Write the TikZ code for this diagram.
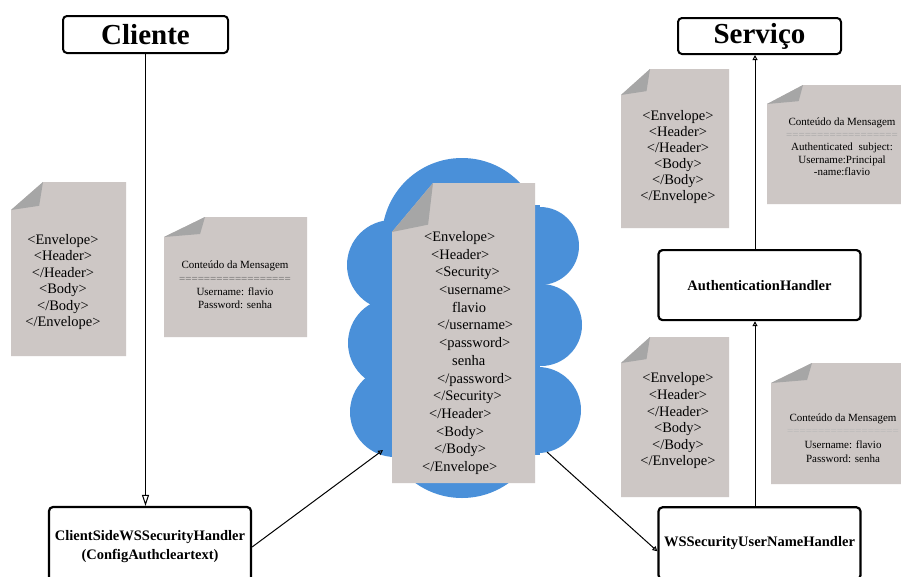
\documentclass[tikz,border=0pt]{standalone}
\usepackage{fontspec}
\setmainfont{Liberation Serif}
\usepackage{xcolor}
\usetikzlibrary{arrows.meta,positioning}

\definecolor{cloudblue}{RGB}{74,144,217}
\definecolor{sheetgray}{RGB}{205,199,197}
\definecolor{foldgray}{RGB}{166,166,166}

% folded sheet: x1, y1, x2, y2, fold width, fold height
\newcommand{\docsheet}[6]{%
  \fill[sheetgray] (#1,#2+#6) -- (#1+#5,#2) -- (#3,#2) -- (#3,#4) -- (#1,#4) -- cycle;
  \fill[foldgray] (#1,#2+#6) -- (#1+#5,#2) -- (#1+0.88*#5,#2+0.85*#6) -- cycle;
}

\begin{document}
\begin{tikzpicture}[
    x=1pt, y=-1pt,
    title/.style={draw, line width=2pt, rounded corners=4pt, fill=white, inner sep=0pt, font=\fontsize{29}{34}\selectfont\bfseries},
    handler/.style={draw, line width=2.2pt, rounded corners=4pt, fill=white, align=center, minimum width=202pt, font=\fontsize{14.5}{19}\selectfont\bfseries},
    xmltext/.style={align=center, inner sep=0pt, font=\fontsize{14.5}{16.4}\selectfont},
    msgtext/.style={align=center, inner sep=0pt, font=\fontsize{11}{13.3}\selectfont},
    link/.style={-{Triangle[open, length=5pt, width=5pt]}, line width=1pt},
    bigtip/.style={-{Triangle[open, length=11pt, width=7pt]}, line width=1pt}
]
\useasboundingbox (0,0) rectangle (901,576);
\clip (0,0) rectangle (901,576);
\fill[white] (0,0) rectangle (901,576);

% Cloud
\foreach \cx/\cy/\r in {462/238/80, 462/418/80, 392/265/45, 393/343/45, 395/412/45, 540/246/39, 541/325/41, 538/410/43}
  \fill[cloudblue] (\cx,\cy) circle[radius=\r];
\fill[cloudblue] (392,205) rectangle (540,455);

% Sheets
\docsheet{11}{182}{126}{356}{32}{28}
\docsheet{164}{217}{307}{337}{41}{20}
\docsheet{392}{183}{535}{483}{41}{49}
\docsheet{621}{69}{729}{228}{29}{26}
\docsheet{767}{85}{901}{204}{36}{19}
\docsheet{621}{337}{729}{497}{29}{26}
\docsheet{771}{363}{901}{484}{41}{20}

% Client side texts
\node[xmltext] (clientxml) at (63,282) {<Envelope>\\<Header>\\</Header>\\<Body>\\</Body>\\</Envelope>};
\node[msgtext] (clientmsg) at (235,285) {Conteúdo da Mensagem\\{\color{black!60}==================}\\Username: flavio\\Password: senha};

% SOAP message
\node[xmltext, align=left, anchor=west, font=\fontsize{14.5}{17.7}\selectfont] (soapmsg) at (422,353) {%
  \hspace*{2pt}<Envelope>\\
  \hspace*{9pt}<Header>\\
  \hspace*{13pt}<Security>\\
  \hspace*{17pt}<username>\\
  \hspace*{30pt}flavio\\
  \hspace*{15pt}</username>\\
  \hspace*{17pt}<password>\\
  \hspace*{30pt}senha\\
  \hspace*{15pt}</password>\\
  \hspace*{11pt}</Security>\\
  \hspace*{7pt}</Header>\\
  \hspace*{14pt}<Body>\\
  \hspace*{12pt}</Body>\\
  </Envelope>};
\coordinate (cloudin) at (383,450);
\coordinate (cloudout) at (547,452);

% Service side texts
\node[xmltext, font=\fontsize{14.5}{16}\selectfont] (servicexml) at (678,157) {<Envelope>\\<Header>\\</Header>\\<Body>\\</Body>\\</Envelope>};
\node[msgtext, font=\fontsize{11}{12.5}\selectfont] (servicemsg) at (842,147) {Conteúdo da Mensagem\\{\color{black!35}==================}\\Authenticated\hspace{3pt} subject:\\Username:Principal\\-name:flavio};
\node[xmltext, font=\fontsize{14.5}{16.6}\selectfont] (handlerxml) at (678,421) {<Envelope>\\<Header>\\</Header>\\<Body>\\</Body>\\</Envelope>};
\node[msgtext, font=\fontsize{11}{13.7}\selectfont] (handlermsg) at (843,438) {Conteúdo da Mensagem\\{\color{black!28}==================}\\Username: flavio\\Password: senha};

% Boxes
\node[title, minimum width=165pt, minimum height=37pt] (cliente) at (145.5,34.5) {Cliente};
\node[title, minimum width=163pt, minimum height=36pt] (servico) at (759.5,36) {Serviço};
\node[handler, minimum height=80pt] (clientside) at (150,547) {ClientSideWSSecurityHandler\\(ConfigAuthcleartext)};
\node[handler, minimum height=70pt, below=194pt of servico] (authhandler) {AuthenticationHandler};
\node[handler, minimum height=72pt, below=185pt of authhandler] (wsshandler) {WSSecurityUserNameHandler};

% Arrows
\draw[bigtip] (cliente.south) -- (cliente.south |- clientside.north);
\draw[link] (clientside.east) -- (cloudin);
\draw[link] (cloudout) -- ([yshift=-8pt]wsshandler.west);
\draw[link] ([xshift=-4.5pt]wsshandler.north) -- ([xshift=-4.5pt]authhandler.south);
\draw[link] ([xshift=-4.5pt]authhandler.north) -- ([xshift=-4.5pt]servico.south);

\end{tikzpicture}
\end{document}
